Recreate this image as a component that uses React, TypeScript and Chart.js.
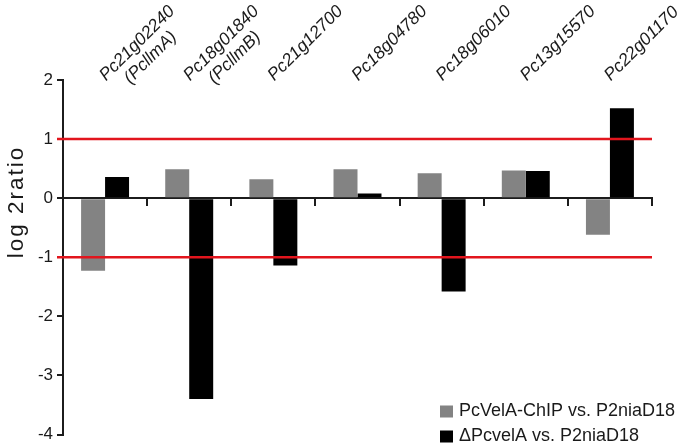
import React, { useEffect, useRef } from "react";
import { Chart, registerables } from "chart.js";

Chart.register(...registerables);

const categories = [
  "Pc21g02240",
  "Pc18g01840",
  "Pc21g12700",
  "Pc18g04780",
  "Pc18g06010",
  "Pc13g15570",
  "Pc22g01170",
];
const categoryNotes = ["(PcllmA)", "(PcllmB)", "", "", "", "", ""];
const seriesLabels = ["PcVelA-ChIP vs. P2niaD18", "\u0394PcvelA vs. P2niaD18"];
const chipValues = [-1.23, 0.49, 0.32, 0.49, 0.42, 0.47, -0.62];
const deltaValues = [0.36, -3.4, -1.14, 0.08, -1.58, 0.46, 1.52];
const yTicks = [2, 1, 0, -1, -2, -3, -4];
const thresholds = [1, -1];
const yTitle = "log 2ratio";

const FONT = "'Liberation Sans', Arial, Helvetica, sans-serif";
const GRAY = "#838383";
const BLACK = "#000000";
const AXIS = "#1c1c1c";
const RED = "#e2151d";
const TEXT = "#1a1a1a";

const refLines = {
  id: "refLines",
  afterDatasetsDraw(chart: any) {
    const { ctx, chartArea, scales } = chart;
    const y = scales.y;
    ctx.save();
    ctx.strokeStyle = RED;
    ctx.lineWidth = 2.5;
    thresholds.forEach((v) => {
      const py = y.getPixelForValue(v);
      ctx.beginPath();
      ctx.moveTo(chartArea.left - 6, py);
      ctx.lineTo(chartArea.right, py);
      ctx.stroke();
    });
    ctx.restore();
  },
};

const yAxisTitle = {
  id: "yAxisTitle",
  afterDraw(chart: any) {
    const { ctx, chartArea } = chart;
    ctx.save();
    ctx.translate(chartArea.left - 40, chartArea.top + 122);
    ctx.rotate(-Math.PI / 2);
    ctx.font = `22.5px ${FONT}`;
    try {
      (ctx as any).letterSpacing = "2px";
    } catch (e) {}
    ctx.fillStyle = TEXT;
    ctx.textAlign = "center";
    ctx.textBaseline = "alphabetic";
    ctx.fillText(yTitle, 0, 0);
    ctx.restore();
  },
};

const cornerLegend = {
  id: "cornerLegend",
  afterDraw(chart: any) {
    const { ctx, chartArea } = chart;
    const x0 = chartArea.right - 212;
    const rows = [chartArea.bottom - 23, chartArea.bottom + 2];
    ctx.save();
    ctx.font = `18px ${FONT}`;
    ctx.textBaseline = "middle";
    ctx.textAlign = "left";
    chart.data.datasets.forEach((ds: any, i: number) => {
      const cy = rows[i];
      ctx.fillStyle = ds.backgroundColor;
      ctx.fillRect(x0, cy - 6, 13, 12);
      ctx.fillStyle = TEXT;
      ctx.fillText(ds.label, x0 + 19, cy);
    });
    ctx.restore();
  },
};

const labelFont = { family: FONT, size: 17.5, style: "italic" as const, lineHeight: 1.3 };

const noPad = (s: any) => {
  s.paddingLeft = 0;
  s.paddingRight = 0;
  s.paddingTop = 0;
  s.paddingBottom = 0;
};

export default function App() {
  const ref = useRef<HTMLCanvasElement>(null);
  useEffect(() => {
    if (!ref.current) return;
    const chart = new Chart(ref.current, {
      type: "bar",
      data: {
        labels: categories,
        datasets: [
          {
            label: seriesLabels[0],
            data: chipValues,
            backgroundColor: GRAY,
            borderWidth: 0,
            barPercentage: 1,
            categoryPercentage: 0.57,
          },
          {
            label: seriesLabels[1],
            data: deltaValues,
            backgroundColor: BLACK,
            borderWidth: 0,
            barPercentage: 1,
            categoryPercentage: 0.57,
          },
        ],
      },
      options: {
        responsive: false,
        animation: false,
        layout: { padding: { left: 0, right: 28, top: 0, bottom: 8.5 } },
        plugins: {
          legend: { display: false },
          tooltip: { enabled: false },
        },
        scales: {
          x: {
            type: "category",
            position: { y: 0 } as any,
            offset: true,
            grid: {
              offset: true,
              drawOnChartArea: false,
              drawTicks: true,
              tickLength: 7,
              color: AXIS,
              lineWidth: 2,
            },
            border: { display: true, color: AXIS, width: 2 },
            ticks: { display: false },
            afterFit: noPad,
          },
          x2: {
            type: "category",
            position: "top",
            offset: true,
            grid: { display: false, drawTicks: false },
            border: { display: false },
            ticks: {
              autoSkip: false,
              mirror: true,
              minRotation: 45,
              maxRotation: 45,
              padding: -10,
              labelOffset: -2.6,
              color: TEXT,
              font: labelFont,
            },
            afterFit: (s: any) => {
              noPad(s);
              s.height = 80;
            },
          },
          x3: {
            type: "category",
            position: "top",
            offset: true,
            labels: categoryNotes,
            grid: { display: false, drawTicks: false },
            border: { display: false },
            ticks: {
              autoSkip: false,
              mirror: true,
              minRotation: 45,
              maxRotation: 45,
              padding: 73,
              labelOffset: 22,
              color: TEXT,
              font: labelFont,
            },
            afterFit: (s: any) => {
              noPad(s);
              s.height = 0;
            },
          },
          y: {
            type: "linear",
            position: "left",
            min: -4,
            max: 2,
            afterBuildTicks: (s: any) => {
              s.ticks = yTicks.map((v) => ({ value: v }));
            },
            grid: {
              drawOnChartArea: false,
              drawTicks: true,
              tickLength: 6,
              color: AXIS,
              lineWidth: 2,
            },
            border: { display: true, color: AXIS, width: 2 },
            ticks: {
              padding: 4,
              color: TEXT,
              font: { family: FONT, size: 17 },
            },
            afterFit: (s: any) => {
              noPad(s);
              s.width = 63;
            },
          },
        },
      },
      plugins: [refLines, yAxisTitle, cornerLegend],
    });
    return () => chart.destroy();
  }, []);
  return (
    <div style={{ position: "fixed", left: 0, top: 0, width: 680, height: 443 }}>
      <canvas ref={ref} width={680} height={443} />
    </div>
  );
}
